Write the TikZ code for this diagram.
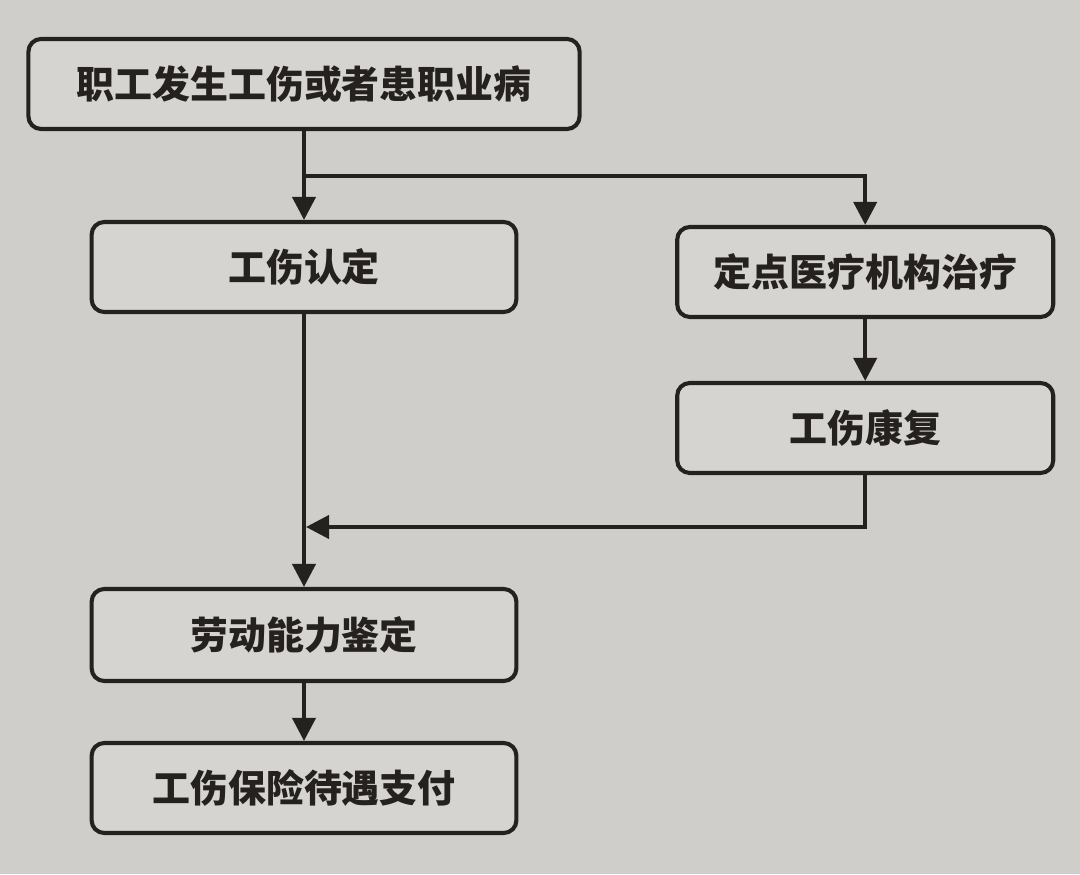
\documentclass[tikz,border=0pt]{standalone}
\usepackage{fontspec}
\usepackage{tikz}
\usetikzlibrary{arrows.meta,positioning,calc}
\newfontfamily\cjk{Noto Sans CJK SC}
\definecolor{Paper}{RGB}{207,206,202}
\definecolor{BoxBg}{RGB}{213,212,208}
\definecolor{Ink}{RGB}{36,33,31}

\begin{document}
\begin{tikzpicture}[
  every node/.style={font=\cjk\bfseries\fontsize{27}{32}\selectfont, text=Ink},
  flow/.style={rectangle, rounded corners=9pt, draw=Ink, fill=BoxBg,
               line width=2.9pt, minimum height=2.25cm, inner sep=0pt},
  arr/.style={-{Triangle[length=0.58cm,width=0.58cm]}, line width=2.9pt, draw=Ink},
]
\fill[Paper] (0,0) rectangle (27,21.85);
\useasboundingbox (0,0) rectangle (27,21.85);
\node[flow, minimum width=13.78cm] (injury) at (7.6, 19.75) {职工发生工伤或者患职业病};
\node[flow, minimum width=10.62cm] (ident)  at (7.6, 15.175) {工伤认定};
\node[flow, minimum width=9.4cm]   (treat)  at (21.63, 15.05) {定点医疗机构治疗};
\node[flow, minimum width=9.4cm]   (rehab)  at (21.63, 11.15) {工伤康复};
\node[flow, minimum width=10.62cm, minimum height=2.3cm] (assess) at (7.6, 5.975) {劳动能力鉴定};
\node[flow, minimum width=10.62cm] (benefit) at (7.6, 2.15) {工伤保险待遇支付};
\coordinate (split) at (7.6, 17.45);
\coordinate (merge) at (7.65, 8.675);
\draw[arr] (injury.south) -- (ident.north);
\draw[arr] (split) -| (treat.north);
\draw[arr] (treat.south) -- (rehab.north);
\draw[arr] (rehab.south) |- (merge);
\draw[arr] (ident.south) -- (assess.north);
\draw[arr] (assess.south) -- (benefit.north);
\end{tikzpicture}
\end{document}
